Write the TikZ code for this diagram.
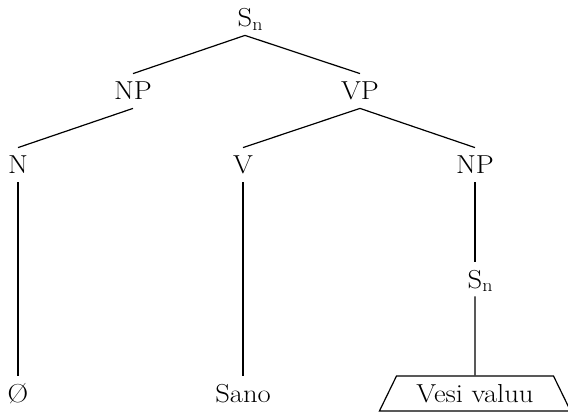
\documentclass[tikz,border=0pt]{standalone}
\usepackage{fontspec}
\setmainfont{Latin Modern Roman}[FakeStretch=1.1]
\usetikzlibrary{shapes.geometric}
\begin{document}
\begin{tikzpicture}[x=1pt,y=-1pt,line width=1.2pt,
every node/.style={font=\fontsize{26}{31}\selectfont, text height=18pt, text depth=0pt, inner ysep=7.8pt, inner xsep=2pt}]
\useasboundingbox (0,0) rectangle (568,417);

\node (s)   at (245,18)  {S\rlap{$_\mathrm{n}$}};
\node (np)  at (133,91)  {NP};
\node (vp)  at (360,91)  {VP};
\node (n)   at (18,165)  {N};
\node (v)   at (243,165) {V};
\node (np2) at (475,165) {NP};
\node (s2)  at (475,279) {S\rlap{$_\mathrm{n}$}};
\node (o)   at (18,393)  {\O};
\node (sano) at (243,393) {Sano};
\node[draw, trapezium, trapezium angle=64, text width=126pt, align=center, inner xsep=15.5pt, inner ysep=8.5pt] (vesi) at (475,393.5) {Vesi valuu};

\path
(s.south) edge (np.north)    edge (vp.north)
(np.south) edge (n.north)
(vp.south) edge (v.north)    edge (np2.north)
(n.south) edge (o.north)
(v.south) edge (sano.north)
(np2.south) edge (s2.north)
(s2.south) edge (vesi.north)
;
\end{tikzpicture}
\end{document}
